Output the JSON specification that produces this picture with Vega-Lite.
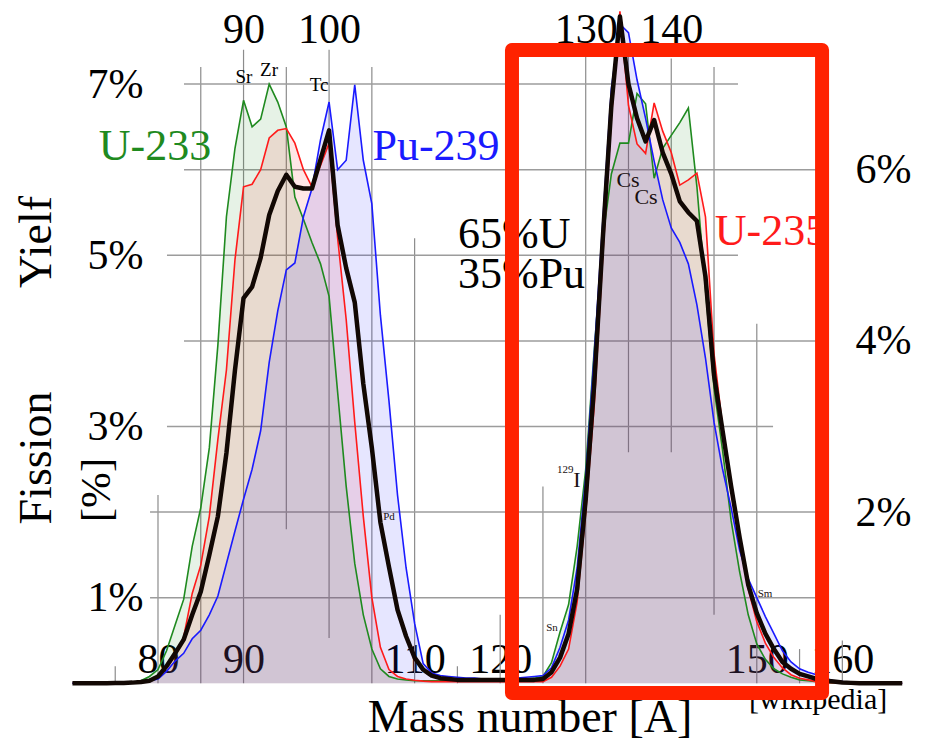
{
  "$schema": "https://vega.github.io/schema/vega-lite/v6.json",
  "width": 926,
  "height": 744,
  "autosize": {"type": "none"},
  "padding": 0,
  "background": "white",
  "config": {
    "view": {"stroke": null},
    "axis": {"labelFont": "Liberation Serif", "labelFontSize": 42, "labelColor": "#000", "domain": false, "ticks": false, "grid": false, "labelOverlap": false, "labelFlush": false},
    "text": {"font": "Liberation Serif", "color": "#000"}
  },
  "resolve": {"axis": {"x": "independent", "y": "independent"}},
  "datasets": {
    "yields": [
      {"A":70,"g":0,"r":0,"b":0,"k":0},
      {"A":74,"g":0.003,"r":0.002,"b":0.003,"k":0.002},
      {"A":75,"g":0.005,"r":0.003,"b":0.005,"k":0.004},
      {"A":76,"g":0.007,"r":0.004,"b":0.008,"k":0.005},
      {"A":77,"g":0.012,"r":0.006,"b":0.01,"k":0.008},
      {"A":78,"g":0.03,"r":0.012,"b":0.02,"k":0.015},
      {"A":79,"g":0.08,"r":0.04,"b":0.03,"k":0.03},
      {"A":80,"g":0.16,"r":0.09,"b":0.05,"k":0.08},
      {"A":81,"g":0.38,"r":0.18,"b":0.14,"k":0.2},
      {"A":82,"g":0.68,"r":0.33,"b":0.26,"k":0.35},
      {"A":83,"g":0.98,"r":0.54,"b":0.35,"k":0.51},
      {"A":84,"g":1.6,"r":1.05,"b":0.52,"k":0.8},
      {"A":85,"g":2.05,"r":1.38,"b":0.62,"k":1.07},
      {"A":86,"g":2.75,"r":1.95,"b":0.8,"k":1.5},
      {"A":87,"g":3.95,"r":2.85,"b":1.02,"k":1.95},
      {"A":88,"g":5.45,"r":3.66,"b":1.4,"k":2.69},
      {"A":89,"g":6.25,"r":4.95,"b":1.78,"k":3.66},
      {"A":90,"g":6.81,"r":5.8,"b":2.15,"k":4.5},
      {"A":91,"g":6.5,"r":5.83,"b":2.5,"k":4.63},
      {"A":92,"g":6.59,"r":6.0,"b":2.95,"k":4.97},
      {"A":93,"g":7.0,"r":6.37,"b":3.75,"k":5.47},
      {"A":94,"g":6.79,"r":6.46,"b":4.35,"k":5.75},
      {"A":95,"g":6.5,"r":6.48,"b":4.83,"k":5.94},
      {"A":96,"g":5.68,"r":6.31,"b":4.91,"k":5.8},
      {"A":97,"g":5.42,"r":6.0,"b":5.45,"k":5.78},
      {"A":98,"g":5.15,"r":5.8,"b":5.78,"k":5.78},
      {"A":99,"g":4.9,"r":6.05,"b":6.35,"k":6.12},
      {"A":100,"g":4.52,"r":6.31,"b":6.79,"k":6.46},
      {"A":101,"g":3.4,"r":5.2,"b":6.0,"k":5.35},
      {"A":102,"g":2.3,"r":4.25,"b":6.11,"k":4.85},
      {"A":103,"g":1.4,"r":3.05,"b":6.99,"k":4.45},
      {"A":104,"g":0.8,"r":1.95,"b":6.11,"k":3.5},
      {"A":105,"g":0.4,"r":1.0,"b":5.6,"k":2.75},
      {"A":106,"g":0.17,"r":0.42,"b":4.3,"k":1.88},
      {"A":107,"g":0.08,"r":0.16,"b":3.3,"k":1.36},
      {"A":108,"g":0.05,"r":0.08,"b":2.2,"k":0.86},
      {"A":109,"g":0.04,"r":0.05,"b":1.35,"k":0.55},
      {"A":110,"g":0.03,"r":0.035,"b":0.7,"k":0.3},
      {"A":111,"g":0.03,"r":0.025,"b":0.23,"k":0.16},
      {"A":112,"g":0.03,"r":0.02,"b":0.12,"k":0.09},
      {"A":113,"g":0.03,"r":0.02,"b":0.09,"k":0.06},
      {"A":114,"g":0.03,"r":0.02,"b":0.08,"k":0.05},
      {"A":115,"g":0.03,"r":0.02,"b":0.07,"k":0.04},
      {"A":116,"g":0.03,"r":0.02,"b":0.06,"k":0.04},
      {"A":117,"g":0.03,"r":0.02,"b":0.06,"k":0.04},
      {"A":118,"g":0.03,"r":0.02,"b":0.05,"k":0.04},
      {"A":119,"g":0.03,"r":0.02,"b":0.05,"k":0.04},
      {"A":120,"g":0.03,"r":0.02,"b":0.05,"k":0.04},
      {"A":121,"g":0.03,"r":0.02,"b":0.05,"k":0.04},
      {"A":122,"g":0.04,"r":0.02,"b":0.06,"k":0.04},
      {"A":123,"g":0.05,"r":0.02,"b":0.07,"k":0.04},
      {"A":124,"g":0.06,"r":0.02,"b":0.08,"k":0.04},
      {"A":125,"g":0.08,"r":0.02,"b":0.09,"k":0.05},
      {"A":126,"g":0.24,"r":0.07,"b":0.18,"k":0.13},
      {"A":127,"g":0.6,"r":0.2,"b":0.42,"k":0.3},
      {"A":128,"g":0.92,"r":0.4,"b":0.74,"k":0.58},
      {"A":129,"g":1.6,"r":0.95,"b":1.35,"k":1.1},
      {"A":130,"g":2.5,"r":2.0,"b":2.4,"k":2.15},
      {"A":131,"g":3.9,"r":3.25,"b":3.85,"k":3.5},
      {"A":132,"g":5.2,"r":5.0,"b":5.4,"k":5.2},
      {"A":133,"g":5.95,"r":6.6,"b":6.95,"k":6.75},
      {"A":134,"g":6.31,"r":7.85,"b":7.7,"k":7.79},
      {"A":135,"g":6.31,"r":6.75,"b":7.6,"k":7.0},
      {"A":136,"g":6.89,"r":6.3,"b":7.05,"k":6.6},
      {"A":137,"g":6.77,"r":6.19,"b":6.6,"k":6.33},
      {"A":138,"g":5.9,"r":6.78,"b":6.1,"k":6.58},
      {"A":139,"g":6.25,"r":6.45,"b":5.65,"k":6.2},
      {"A":140,"g":6.4,"r":6.2,"b":5.32,"k":5.95},
      {"A":141,"g":6.55,"r":5.82,"b":5.15,"k":5.63},
      {"A":142,"g":6.72,"r":5.88,"b":4.9,"k":5.5},
      {"A":143,"g":5.8,"r":5.96,"b":4.42,"k":5.4},
      {"A":144,"g":4.6,"r":5.45,"b":3.8,"k":4.75},
      {"A":145,"g":3.45,"r":3.85,"b":3.05,"k":3.6},
      {"A":146,"g":2.72,"r":3.0,"b":2.5,"k":2.95},
      {"A":147,"g":1.9,"r":2.3,"b":2.05,"k":2.3},
      {"A":148,"g":1.3,"r":1.7,"b":1.55,"k":1.7},
      {"A":149,"g":0.8,"r":1.1,"b":1.22,"k":1.15},
      {"A":150,"g":0.46,"r":0.72,"b":1.0,"k":0.82},
      {"A":151,"g":0.28,"r":0.47,"b":0.78,"k":0.58},
      {"A":152,"g":0.17,"r":0.3,"b":0.58,"k":0.4},
      {"A":153,"g":0.11,"r":0.18,"b":0.38,"k":0.25},
      {"A":154,"g":0.07,"r":0.1,"b":0.25,"k":0.17},
      {"A":155,"g":0.04,"r":0.06,"b":0.17,"k":0.11},
      {"A":156,"g":0.03,"r":0.04,"b":0.13,"k":0.08},
      {"A":157,"g":0.02,"r":0.02,"b":0.1,"k":0.05},
      {"A":158,"g":0.01,"r":0.01,"b":0.06,"k":0.03},
      {"A":159,"g":0.005,"r":0.006,"b":0.03,"k":0.02},
      {"A":160,"g":0.003,"r":0.004,"b":0.02,"k":0.01},
      {"A":161,"g":0.002,"r":0.002,"b":0.01,"k":0.005},
      {"A":162,"g":0,"r":0,"b":0.005,"k":0},
      {"A":167,"g":0,"r":0,"b":0,"k":0}
    ],
    "vgrid": [
      {"A":75,"lo":0,"hi":0.2},
      {"A":80,"lo":0,"hi":2.2},
      {"A":85,"lo":0,"hi":7.2},
      {"A":90,"lo":0,"hi":7.4},
      {"A":95,"lo":1.8,"hi":7.2},
      {"A":100,"lo":0.53,"hi":7.4},
      {"A":105,"lo":0,"hi":7.2},
      {"A":110,"lo":0,"hi":5.2},
      {"A":115,"lo":0,"hi":0.2},
      {"A":120,"lo":0,"hi":0.8},
      {"A":125,"lo":0,"hi":2.3},
      {"A":130,"lo":0,"hi":7.35},
      {"A":135,"lo":2.7,"hi":7.4},
      {"A":140,"lo":2.7,"hi":7.3},
      {"A":145,"lo":0.8,"hi":7.2},
      {"A":150,"lo":0,"hi":4.2},
      {"A":155,"lo":0,"hi":0.4},
      {"A":160,"lo":0,"hi":0.5}
    ],
    "hgrid": [
      {"Y":1,"from":79.07,"to":157.39},
      {"Y":2,"from":79.07,"to":157.39},
      {"Y":3,"from":81.05,"to":151.9},
      {"Y":4,"from":83.04,"to":157.16},
      {"Y":5,"from":81.05,"to":147.8},
      {"Y":6,"from":83.04,"to":157.16},
      {"Y":7,"from":83.04,"to":147.8}
    ]
  },
  "layer": [
    {
      "data": {"name": "vgrid"},
      "mark": {"type": "rule", "color": "#8c8c8c", "strokeWidth": 1.2},
      "encoding": {
        "x": {"field": "A", "type": "quantitative", "scale": {"domain": [61.53, 169.78], "nice": false, "zero": false}, "axis": null},
        "y": {"field": "lo", "type": "quantitative", "scale": {"domain": [-0.709, 7.982], "nice": false, "zero": false}, "axis": null},
        "y2": {"field": "hi"}
      }
    },
    {
      "data": {"name": "hgrid"},
      "mark": {"type": "rule", "color": "#9c9c9c", "strokeWidth": 1.5},
      "encoding": {
        "y": {"field": "Y", "type": "quantitative", "scale": {"domain": [-0.709, 7.982], "nice": false, "zero": false}, "axis": null},
        "x": {"field": "from", "type": "quantitative", "scale": {"domain": [61.53, 169.78], "nice": false, "zero": false}, "axis": null},
        "x2": {"field": "to"}
      }
    },
    {
      "data": {"name": "yields"},
      "transform": [{"fold": ["g", "r", "b"], "as": ["s", "y"]}],
      "mark": {"type": "area", "opacity": 0.11},
      "encoding": {
        "x": {"field": "A", "type": "quantitative", "scale": {"domain": [61.53, 169.78], "nice": false, "zero": false},
              "axis": {"orient": "bottom", "values": [80, 90, 110, 120, 150, 160], "title": null, "labelBaseline": "alphabetic", "labelPadding": -72}},
        "y": {"field": "y", "type": "quantitative", "stack": null, "scale": {"domain": [-0.709, 7.982], "nice": false, "zero": false},
              "axis": {"orient": "left", "values": [1, 3, 5, 7], "title": null, "labelExpr": "datum.value + '%'", "labelAlign": "right", "labelBaseline": "middle", "labelPadding": -143}},
        "color": {"field": "s", "type": "nominal", "scale": {"domain": ["g", "r", "b"], "range": ["#1f8a1f", "#ff1a1a", "#1a1aff"]}, "legend": null}
      }
    },
    {
      "data": {"name": "yields"},
      "transform": [{"fold": ["g", "r", "b"], "as": ["s", "y"]}],
      "mark": {"type": "line", "strokeWidth": 1.6},
      "encoding": {
        "x": {"field": "A", "type": "quantitative", "scale": {"domain": [61.53, 169.78], "nice": false, "zero": false},
              "axis": {"orient": "top", "values": [90, 100, 130, 140], "title": null, "labelBaseline": "alphabetic", "labelPadding": -42}},
        "y": {"field": "y", "type": "quantitative", "stack": null, "scale": {"domain": [-0.709, 7.982], "nice": false, "zero": false},
              "axis": {"orient": "right", "values": [2, 4, 6], "title": null, "labelExpr": "datum.value + '%'", "labelAlign": "left", "labelBaseline": "middle", "labelPadding": -71}},
        "color": {"field": "s", "type": "nominal", "scale": {"domain": ["g", "r", "b"], "range": ["#1f8a1f", "#ff1a1a", "#1a1aff"]}, "legend": null}
      }
    },
    {
      "data": {"name": "yields"},
      "mark": {"type": "line", "strokeWidth": 4.5, "color": "#120804", "strokeJoin": "round"},
      "encoding": {
        "x": {"field": "A", "type": "quantitative", "scale": {"domain": [61.53, 169.78], "nice": false, "zero": false}, "axis": null},
        "y": {"field": "k", "type": "quantitative", "scale": {"domain": [-0.709, 7.982], "nice": false, "zero": false}, "axis": null}
      }
    },
    {
      "data": {"values": [
        {"t": "U-233", "s": "g", "A": 79.65, "Y": 6.265},
        {"t": "Pu-239", "s": "b", "A": 112.5, "Y": 6.265},
        {"t": "U-235", "s": "r", "A": 151.66, "Y": 5.272}
      ]},
      "mark": {"type": "text", "fontSize": 44, "align": "center", "baseline": "middle"},
      "encoding": {
        "x": {"field": "A", "type": "quantitative", "scale": {"domain": [61.53, 169.78], "nice": false, "zero": false}, "axis": null},
        "y": {"field": "Y", "type": "quantitative", "scale": {"domain": [-0.709, 7.982], "nice": false, "zero": false}, "axis": null},
        "text": {"field": "t"},
        "color": {"field": "s", "type": "nominal", "scale": {"domain": ["g", "r", "b"], "range": ["#1f8a1f", "#ff1a1a", "#1a1aff"]}, "legend": null}
      }
    },
    {
      "data": {"values": [
        {"t": "65%U", "A": 115.07, "Y": 5.237},
        {"t": "35%Pu", "A": 115.07, "Y": 4.77}
      ]},
      "mark": {"type": "text", "fontSize": 44, "align": "left", "baseline": "middle"},
      "encoding": {
        "x": {"field": "A", "type": "quantitative", "scale": {"domain": [61.53, 169.78], "nice": false, "zero": false}, "axis": null},
        "y": {"field": "Y", "type": "quantitative", "scale": {"domain": [-0.709, 7.982], "nice": false, "zero": false}, "axis": null},
        "text": {"field": "t"}
      }
    },
    {
      "data": {"values": [
        {"t": "Yielf", "A": 65.86, "Y": 5.155},
        {"t": "Fission", "A": 65.86, "Y": 2.632}
      ]},
      "mark": {"type": "text", "fontSize": 46, "align": "center", "baseline": "middle", "angle": 270},
      "encoding": {
        "x": {"field": "A", "type": "quantitative", "scale": {"domain": [61.53, 169.78], "nice": false, "zero": false}, "axis": null},
        "y": {"field": "Y", "type": "quantitative", "scale": {"domain": [-0.709, 7.982], "nice": false, "zero": false}, "axis": null},
        "text": {"field": "t"}
      }
    },
    {
      "data": {"values": [{"t": "[%]", "A": 72.87, "Y": 2.258}]},
      "mark": {"type": "text", "fontSize": 43, "align": "center", "baseline": "middle", "angle": 270},
      "encoding": {
        "x": {"field": "A", "type": "quantitative", "scale": {"domain": [61.53, 169.78], "nice": false, "zero": false}, "axis": null},
        "y": {"field": "Y", "type": "quantitative", "scale": {"domain": [-0.709, 7.982], "nice": false, "zero": false}, "axis": null},
        "text": {"field": "t"}
      }
    },
    {
      "data": {"values": [{"t": "Mass number [A]", "A": 123.49, "Y": -0.401}]},
      "mark": {"type": "text", "fontSize": 46, "align": "center", "baseline": "middle"},
      "encoding": {
        "x": {"field": "A", "type": "quantitative", "scale": {"domain": [61.53, 169.78], "nice": false, "zero": false}, "axis": null},
        "y": {"field": "Y", "type": "quantitative", "scale": {"domain": [-0.709, 7.982], "nice": false, "zero": false}, "axis": null},
        "text": {"field": "t"}
      }
    },
    {
      "data": {"values": [{"t": "[wikipedia]", "A": 157.16, "Y": -0.194}]},
      "mark": {"type": "text", "fontSize": 30, "align": "center", "baseline": "middle"},
      "encoding": {
        "x": {"field": "A", "type": "quantitative", "scale": {"domain": [61.53, 169.78], "nice": false, "zero": false}, "axis": null},
        "y": {"field": "Y", "type": "quantitative", "scale": {"domain": [-0.709, 7.982], "nice": false, "zero": false}, "axis": null},
        "text": {"field": "t"}
      }
    },
    {
      "data": {"values": [
        {"t": "Sr", "A": 90.05, "Y": 7.083},
        {"t": "Zr", "A": 92.98, "Y": 7.165},
        {"t": "Tc", "A": 98.82, "Y": 6.989}
      ]},
      "mark": {"type": "text", "fontSize": 19, "align": "center", "baseline": "middle"},
      "encoding": {
        "x": {"field": "A", "type": "quantitative", "scale": {"domain": [61.53, 169.78], "nice": false, "zero": false}, "axis": null},
        "y": {"field": "Y", "type": "quantitative", "scale": {"domain": [-0.709, 7.982], "nice": false, "zero": false}, "axis": null},
        "text": {"field": "t"}
      }
    },
    {
      "data": {"values": [
        {"t": "Cs", "A": 134.95, "Y": 5.88},
        {"t": "Cs", "A": 137.05, "Y": 5.681},
        {"t": "I", "A": 128.98, "Y": 2.374}
      ]},
      "mark": {"type": "text", "fontSize": 22, "align": "center", "baseline": "middle", "color": "#1a1010"},
      "encoding": {
        "x": {"field": "A", "type": "quantitative", "scale": {"domain": [61.53, 169.78], "nice": false, "zero": false}, "axis": null},
        "y": {"field": "Y", "type": "quantitative", "scale": {"domain": [-0.709, 7.982], "nice": false, "zero": false}, "axis": null},
        "text": {"field": "t"}
      }
    },
    {
      "data": {"values": [
        {"t": "129", "A": 127.6, "Y": 2.49},
        {"t": "Pd", "A": 107.0, "Y": 1.943},
        {"t": "Sn", "A": 126.06, "Y": 0.646},
        {"t": "Sm", "A": 150.96, "Y": 1.043}
      ]},
      "mark": {"type": "text", "fontSize": 11, "align": "center", "baseline": "middle", "color": "#1a1010"},
      "encoding": {
        "x": {"field": "A", "type": "quantitative", "scale": {"domain": [61.53, 169.78], "nice": false, "zero": false}, "axis": null},
        "y": {"field": "Y", "type": "quantitative", "scale": {"domain": [-0.709, 7.982], "nice": false, "zero": false}, "axis": null},
        "text": {"field": "t"}
      }
    },
    {
      "data": {"values": [{"a0": 121.38, "a1": 157.63, "y0": -0.114, "y1": 7.398}]},
      "mark": {"type": "rect", "filled": false, "stroke": "#ff2200", "strokeWidth": 14, "strokeJoin": "round"},
      "encoding": {
        "x": {"field": "a0", "type": "quantitative", "scale": {"domain": [61.53, 169.78], "nice": false, "zero": false}, "axis": null},
        "x2": {"field": "a1"},
        "y": {"field": "y0", "type": "quantitative", "scale": {"domain": [-0.709, 7.982], "nice": false, "zero": false}, "axis": null},
        "y2": {"field": "y1"}
      }
    }
  ]
}
